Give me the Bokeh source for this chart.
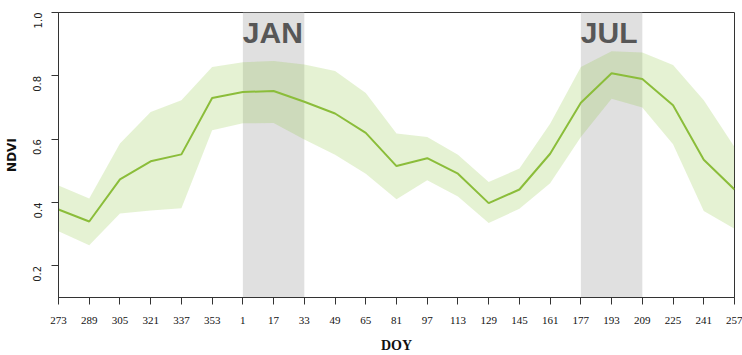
import math
from bokeh.plotting import figure
from bokeh.models import Range1d, FixedTicker, PrintfTickFormatter, ColumnDataSource
from bokeh.core.properties import value
from bokeh.embed import file_html
from bokeh.resources import INLINE

# Day-of-year composites, September through the following September
doy = [273, 289, 305, 321, 337, 353, 1, 17, 33, 49, 65, 81, 97, 113,
       129, 145, 161, 177, 193, 209, 225, 241, 257]

# Mean NDVI and the spread envelope around it
ndvi_mean = [0.378, 0.340, 0.473, 0.530, 0.552, 0.730, 0.749, 0.752, 0.718,
             0.681, 0.620, 0.515, 0.540, 0.491, 0.398, 0.441, 0.554, 0.715,
             0.808, 0.790, 0.707, 0.535, 0.441]
ndvi_upper = [0.454, 0.413, 0.586, 0.686, 0.723, 0.828, 0.843, 0.847, 0.836,
              0.815, 0.746, 0.618, 0.607, 0.551, 0.465, 0.507, 0.649, 0.828,
              0.878, 0.874, 0.834, 0.723, 0.575]
ndvi_lower = [0.309, 0.265, 0.365, 0.375, 0.382, 0.628, 0.650, 0.651, 0.599,
              0.551, 0.491, 0.410, 0.470, 0.419, 0.335, 0.380, 0.461, 0.607,
              0.728, 0.700, 0.584, 0.373, 0.317]

# Highlighted months (start and end DOY of each window)
month_names = ["JAN", "JUL"]
month_start = [1, 177]
month_end = [33, 209]

y_ticks = [0.2, 0.4, 0.6, 0.8, 1.0]
y_min, y_max = 0.1, 1.0

pos = list(range(len(doy)))
idx = {d: i for i, d in enumerate(doy)}
x_min, x_max = 0, len(doy) - 1

p = figure(width=742, height=355, output_backend="svg", toolbar_location=None,
           x_range=Range1d(x_min, x_max), y_range=Range1d(y_min, y_max),
           min_border_left=58, min_border_right=8, min_border_top=12,
           min_border_bottom=57)
p.background_fill_color = "white"
p.border_fill_color = "white"
p.outline_line_color = "#333333"
p.outline_line_width = 1
p.xgrid.visible = False
p.ygrid.visible = False

# Month windows
shade = ColumnDataSource(dict(
    left=[idx[d] for d in month_start],
    right=[idx[d] for d in month_end],
    name=month_names,
))
p.quad(left="left", right="right", bottom=y_min, top=y_max, source=shade,
       fill_color="#e0e0e0", line_color=None)

# Envelope and mean curve
p.varea(x=pos, y1=ndvi_lower, y2=ndvi_upper, fill_color="#8dc63f", fill_alpha=0.23)
p.line(pos, ndvi_mean, line_color="#8bbd3a", line_width=2)

# Month captions
p.text(x="left", y=y_max, text="name", source=shade,
       text_font=value("Liberation Sans"), text_font_style="bold",
       text_font_size="30px", text_color="#575757",
       text_align="left", text_baseline="alphabetic", y_offset=20)

# X axis
xa = p.xaxis[0]
xa.ticker = FixedTicker(ticks=pos)
xa.major_label_overrides = {i: str(d) for i, d in enumerate(doy)}
xa.minor_tick_line_color = None
xa.major_tick_in = 0
xa.major_tick_out = 7
xa.major_label_standoff = 12
xa.major_label_text_font = "Liberation Serif"
xa.major_label_text_font_size = "11px"
xa.major_label_text_color = "#111111"
xa.axis_line_color = "#333333"
xa.major_tick_line_color = "#333333"
xa.axis_label = "DOY"
xa.axis_label_text_font = "Liberation Serif"
xa.axis_label_text_font_style = "bold"
xa.axis_label_text_font_size = "14px"
xa.axis_label_text_color = "#111111"
xa.axis_label_standoff = 11

# Y axis
ya = p.yaxis[0]
ya.ticker = FixedTicker(ticks=y_ticks)
ya.formatter = PrintfTickFormatter(format="%.1f")
ya.minor_tick_line_color = None
ya.major_tick_in = 0
ya.major_tick_out = 7
ya.major_label_standoff = 14
ya.major_label_orientation = math.pi / 2
ya.major_label_text_font = "DejaVu Sans"
ya.major_label_text_font_size = "10px"
ya.major_label_text_color = "#222222"
ya.axis_line_color = "#333333"
ya.major_tick_line_color = "#333333"
ya.axis_label = "NDVI"
ya.axis_label_text_font = "DejaVu Sans"
ya.axis_label_text_font_style = "bold"
ya.axis_label_text_font_size = "12px"
ya.axis_label_text_color = "#111111"
ya.axis_label_standoff = 8

open("out.html", "w").write(file_html(p, INLINE))
